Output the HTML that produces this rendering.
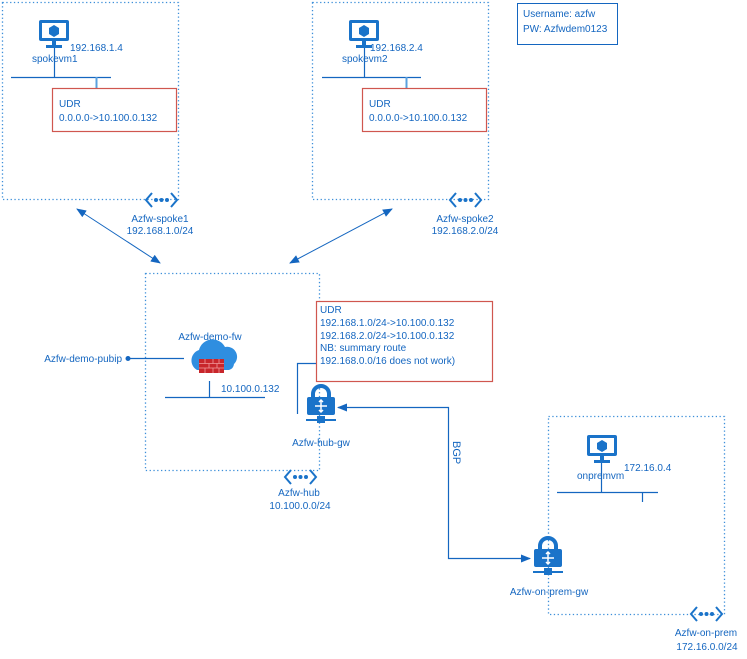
<!DOCTYPE html>
<html><head><style>
html,body{margin:0;padding:0;background:#fff;}
svg{display:block;}
text{font-family:"Liberation Sans",sans-serif;font-size:10px;fill:#1466c0;}
</style></head><body>
<svg width="747" height="659" viewBox="0 0 747 659" xmlns="http://www.w3.org/2000/svg">
<defs>
<g id="vm">
  <rect x="0" y="0" width="30" height="21" rx="2" fill="#1a73c9"/>
  <rect x="3" y="3" width="24" height="15" fill="#fff"/>
  <path d="M15 5 L20 8 L20 14 L15 17 L10 14 L10 8 Z" fill="#1a73c9"/>
  <rect x="13" y="21" width="4" height="4" fill="#1a73c9"/>
  <rect x="7" y="25" width="16" height="3" fill="#1a73c9"/>
</g>
<g id="gw">
  <path d="M7 13 V9 a8 8 0 0 1 16 0 V13" fill="none" stroke="#1a73c9" stroke-width="4"/>
  <rect x="1" y="12" width="28" height="18" rx="2" fill="#1a73c9"/>
  <path d="M15 15 L15 27 M9 21 L21 21" stroke="#fff" stroke-width="1.5"/>
  <path d="M13 17 L15 15 L17 17 M13 25 L15 27 L17 25" fill="none" stroke="#fff" stroke-width="1.5"/>
  <rect x="0" y="34" width="30" height="2" fill="#1a73c9"/>
  <rect x="11" y="31" width="8" height="7" fill="#1a73c9"/>
</g>
<g id="peer">
  <path d="M7 0 L1 7 L7 14 M26 0 L32 7 L26 14" fill="none" stroke="#1a73c9" stroke-width="2"/>
  <circle cx="11" cy="7" r="2" fill="#1a73c9"/><circle cx="16.5" cy="7" r="2" fill="#1a73c9"/><circle cx="22" cy="7" r="2" fill="#1a73c9"/>
</g>
<marker id="ah" markerWidth="10" markerHeight="8" refX="9" refY="4" orient="auto-start-reverse" markerUnits="userSpaceOnUse">
  <path d="M0 0 L10 4 L0 8 Z" fill="#1466c0"/>
</marker>
</defs>

<!-- boxes -->
<g fill="none" stroke="#3d8fd9" stroke-width="1.3" stroke-dasharray="1.3 2.5">
  <rect x="2.5" y="2.5" width="176" height="197"/>
  <rect x="312.5" y="2.5" width="176" height="197"/>
  <rect x="145.5" y="273.5" width="174" height="197"/>
  <rect x="548.5" y="416.5" width="176" height="198"/>
</g>

<!-- creds -->
<rect x="517.5" y="3.5" width="100" height="41" fill="#fff" stroke="#1466c0" stroke-width="1"/>
<text x="523" y="17">Username: azfw</text>
<text x="523" y="32">PW: Azfwdem0123</text>

<!-- spoke1 -->
<use href="#vm" x="39" y="20"/>
<text x="70" y="51">192.168.1.4</text>
<text x="32" y="62">spokevm1</text>
<path d="M11 77.5 H111 M54.5 48 V77 " stroke="#1466c0" stroke-width="1.2"/>
<path d="M96.5 77 V88" stroke="#5aa0de" stroke-width="2"/>
<rect x="52.5" y="88.5" width="124" height="43" fill="#fff" stroke="#d0574f" stroke-width="1.2"/>
<text x="59" y="107">UDR</text>
<text x="59" y="121">0.0.0.0-&gt;10.100.0.132</text>
<use href="#peer" x="145" y="193"/>
<text x="160" y="222" text-anchor="middle">Azfw-spoke1</text>
<text x="160" y="234" text-anchor="middle">192.168.1.0/24</text>

<!-- spoke2 -->
<use href="#vm" x="349" y="20"/>
<text x="370" y="51">192.168.2.4</text>
<text x="342" y="62">spokevm2</text>
<path d="M322 77.5 H421 M364.5 48 V77" stroke="#1466c0" stroke-width="1.2"/>
<path d="M406.5 77 V88" stroke="#5aa0de" stroke-width="2"/>
<rect x="362.5" y="88.5" width="124" height="43" fill="#fff" stroke="#d0574f" stroke-width="1.2"/>
<text x="369" y="107">UDR</text>
<text x="369" y="121">0.0.0.0-&gt;10.100.0.132</text>
<use href="#peer" x="449" y="193"/>
<text x="465" y="222" text-anchor="middle">Azfw-spoke2</text>
<text x="465" y="234" text-anchor="middle">192.168.2.0/24</text>

<!-- peering arrows -->
<line x1="77" y1="209" x2="160" y2="263" stroke="#1466c0" stroke-width="1" marker-start="url(#ah)" marker-end="url(#ah)"/>
<line x1="392" y1="209" x2="290" y2="263" stroke="#1466c0" stroke-width="1" marker-start="url(#ah)" marker-end="url(#ah)"/>

<!-- hub -->
<text x="210" y="340" text-anchor="middle">Azfw-demo-fw</text>
<g>
  <path d="M197 370 a11 11 0 0 1 2 -20 a14 14 0 0 1 26 -3 a10 10 0 0 1 9 17 a7 7 0 0 1 -5 6 Z" fill="#2f8ee0"/>
  <rect x="199" y="359" width="25" height="14" fill="#c8262b"/>
  <path d="M199 363.5 H224 M199 368 H224 M205 359 V363.5 M213 359 V363.5 M219 359 V363.5 M209 363.5 V368 M217 363.5 V368 M205 368 V373 M213 368 V373 M219 368 V373" stroke="#f19a9c" stroke-width="0.8"/>
</g>
<circle cx="128" cy="358.5" r="2.5" fill="#1466c0"/>
<path d="M128 358.5 H184" stroke="#1466c0" stroke-width="1.2"/>
<text x="122" y="362" text-anchor="end">Azfw-demo-pubip</text>
<path d="M209.5 381 V397 M165 397.5 H265" stroke="#1466c0" stroke-width="1.2"/>
<text x="221" y="392">10.100.0.132</text>

<rect x="316.5" y="301.5" width="176" height="80" fill="#fff" stroke="#d0574f" stroke-width="1.2"/>
<text x="320" y="313">UDR</text>
<text x="320" y="326">192.168.1.0/24-&gt;10.100.0.132</text>
<text x="320" y="339">192.168.2.0/24-&gt;10.100.0.132</text>
<text x="320" y="351">NB: summary route</text>
<text x="320" y="364">192.168.0.0/16 does not work)</text>
<path d="M316 363.5 H297.5 V414" stroke="#1466c0" stroke-width="1.2" fill="none"/>
<use href="#gw" x="306" y="385"/>
<text x="321" y="446" text-anchor="middle">Azfw-hub-gw</text>
<use href="#peer" x="284" y="470"/>
<text x="299" y="496" text-anchor="middle">Azfw-hub</text>
<text x="300" y="509" text-anchor="middle">10.100.0.0/24</text>

<!-- BGP -->
<path d="M529 558.5 H448.5 V407.5 H338" stroke="#1466c0" stroke-width="1.2" fill="none" marker-end="url(#ah)"/>
<path d="M520 558.5 H530" stroke="#1466c0" stroke-width="1.2" marker-end="url(#ah)"/>
<text x="0" y="0" transform="translate(453,441) rotate(90)" style="font-size:11px">BGP</text>

<!-- onprem -->
<use href="#vm" x="587" y="435"/>
<text x="624" y="471">172.16.0.4</text>
<text x="577" y="479">onpremvm</text>
<path d="M557 492.5 H658 M601.5 463 V492 M642.5 492 V502" stroke="#1466c0" stroke-width="1.2"/>
<use href="#gw" x="533" y="537"/>
<text x="549" y="595" text-anchor="middle">Azfw-on-prem-gw</text>
<use href="#peer" x="690" y="607"/>
<text x="706" y="636" text-anchor="middle">Azfw-on-prem</text>
<text x="707" y="650" text-anchor="middle">172.16.0.0/24</text>
</svg>
</body></html>
